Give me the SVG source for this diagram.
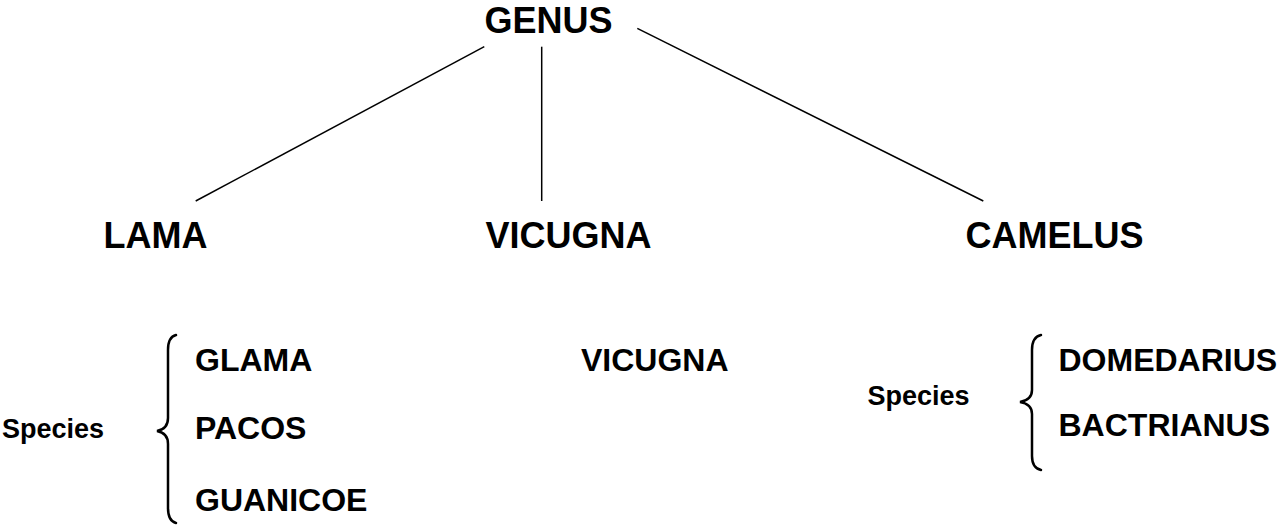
<svg xmlns="http://www.w3.org/2000/svg" width="1282" height="528" viewBox="0 0 1282 528">
<style>
text{font-family:"Liberation Sans",Arial,sans-serif;font-weight:bold;fill:#000}
.t{font-size:36px}
.s{font-size:32px}
.l{font-size:27px}
.c{stroke:#000;stroke-width:1.5;fill:none}
.b{stroke:#000;stroke-width:2.5;fill:none;stroke-linecap:round}
</style>
<rect width="1282" height="528" fill="#fff"/>
<g id="connectors">
<line class="c" x1="484.3" y1="46.7" x2="195.7" y2="201"/>
<line class="c" x1="541.7" y1="46.7" x2="541.7" y2="201"/>
<line class="c" x1="637.3" y1="28.3" x2="983.3" y2="201"/>
</g>
<g id="genus"><text class="t" x="484.5" y="33">GENUS</text></g>
<g id="lama"><text class="t" x="103.5" y="248">LAMA</text></g>
<g id="vicugna"><text class="t" x="485.5" y="248">VICUGNA</text></g>
<g id="camelus"><text class="t" x="965.5" y="248">CAMELUS</text></g>
<g id="lama-species">
<text class="l" x="2" y="438">Species</text>
<path class="b" d="M176,335 Q168,337 168,350 L168,418 Q168,429 157,431 Q168,433 168,444 L168,508 Q168,521 176,523"/>
<text class="s" x="195" y="371">GLAMA</text>
<text class="s" x="195" y="438.5">PACOS</text>
<text class="s" x="195" y="511">GUANICOE</text>
</g>
<g id="vicugna-species"><text class="s" x="581" y="371">VICUGNA</text></g>
<g id="camelus-species">
<text class="l" x="867.5" y="405">Species</text>
<path class="b" d="M1041,335 Q1032,337 1032,350 L1032,390 Q1032,400 1020,402 Q1032,404 1032,414 L1032,456 Q1032,468 1041,470"/>
<text class="s" x="1058.5" y="371">DOMEDARIUS</text>
<text class="s" x="1058.5" y="436">BACTRIANUS</text>
</g>
</svg>
